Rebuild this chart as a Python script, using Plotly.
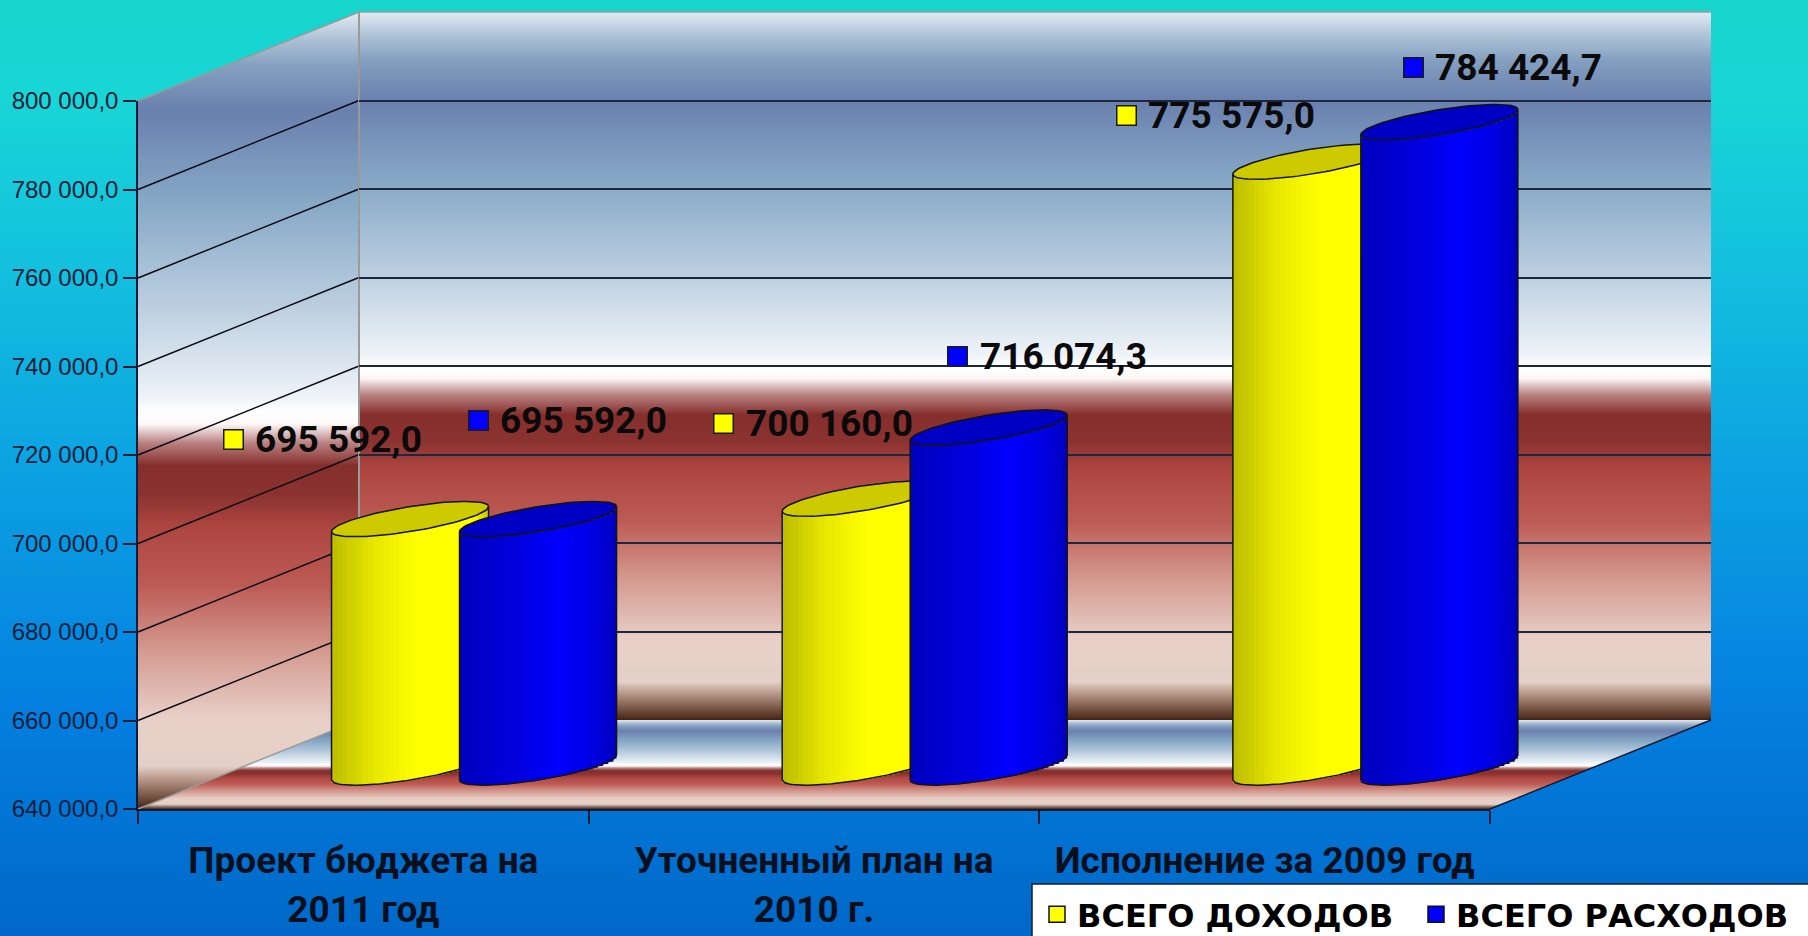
import numpy as np
import plotly.graph_objects as go

# ---------- data ----------
categories = ["Проект бюджета на<br>2011 год", "Уточненный план на<br>2010 г.", "Исполнение за 2009 год"]
series_names = ["ВСЕГО ДОХОДОВ", "ВСЕГО РАСХОДОВ"]
income = [695592.0, 700160.0, 775575.0]
expense = [695592.0, 716074.3, 784424.7]
income_labels = ["695 592,0", "700 160,0", "775 575,0"]
expense_labels = ["695 592,0", "716 074,3", "784 424,7"]
y_ticks = [640000, 660000, 680000, 700000, 720000, 740000, 760000, 780000, 800000]
y_tick_labels = ["640 000,0", "660 000,0", "680 000,0", "700 000,0", "720 000,0",
                 "740 000,0", "760 000,0", "780 000,0", "800 000,0"]

# ---------- geometry (pixels of the 1808x936 canvas) ----------
W, H = 1808, 936
FX0, FX1, FY0, FY1 = 138, 1490, 809, 101      # front axis box
BX0, BX1, BY0, BY1 = 359, 1711, 720, 12       # back wall
CX0, CY0 = 248.7, 767.5                       # cylinders: value 640000 / x=0
CH = 715                                      # cylinders: px for full range
EXTRA = 30                                    # room under cylinder base
A_PX, SHEAR, B_PX, SEP_PX = 78.5, 12.5, 12.5, 64
CAT_PX = (FX1 - FX0) / 3
YMIN, YMAX = y_ticks[0], y_ticks[-1]
VAL_PER_PX = (YMAX - YMIN) / CH


def dom_x(a, b):
    return [a / W, b / W]


def dom_y(bottom, top):
    return [1 - bottom / H, 1 - top / H]


# ---------- colours ----------
bg_stops = [(0, "#16d5cb"), (0.1, "#18d6d6"), (0.27, "#14c2de"), (0.5, "#0ca2e2"),
            (0.75, "#0480e0"), (1, "#0068c8")]
wall_stops = [(0, "#e3ebf4"), (.032, "#b0c4d8"), (.068, "#84a0c0"), (.124, "#6a80ae"),
              (.237, "#86a8c6"), (.371, "#bccfe0"), (.484, "#eef3f8"), (.501, "#ffffff"),
              (.517, "#fdf8f8"), (.541, "#b88080"), (.569, "#852f2c"), (.605, "#8a322f"),
              (.647, "#ae4640"), (.718, "#bc5a54"), (.802, "#d49a90"), (.887, "#e8d0c8"),
              (.946, "#e4d0c8"), (.965, "#b09080"), (.983, "#7a5848"), (.997, "#4e2c1e"),
              (1, "#3a2010")]
yellow_stops = [(-1, (188, 188, 0)), (-0.45, (232, 232, 0)), (0.1, (255, 255, 0)),
                (0.8, (255, 255, 0)), (1, (200, 200, 0))]
blue_stops = [(-1, (0, 0, 190)), (-0.2, (0, 0, 225)), (0.25, (0, 0, 255)), (0.7, (0, 0, 225)),
              (1, (0, 0, 190))]
TOP_YELLOW, TOP_BLUE = "#cdcb00", "#0000c4"
OUTLINE = "#14140c"
AXIS = "#0c1c38"
GRID = "#1c2840"
EDGE = "#9a9a9a"
FONT_HEAVY = "Roboto"

fig = go.Figure()


def hm(x, y, z, stops, axes=("x", "y")):
    fig.add_trace(go.Heatmap(x=x, y=y, z=z, colorscale=[[t, c] for t, c in stops], zmin=0, zmax=1,
                             showscale=False, hoverinfo="skip", xaxis=axes[0], yaxis=axes[1]))


# page background
ys = np.arange(0, H + 1)
hm([0, W], ys, ((ys[:-1] + .5) / H).reshape(-1, 1), bg_stops)

# back wall
ys = np.arange(BY1, BY0 + 1)
hm([BX0, BX1], ys, ((ys[:-1] + .5 - BY1) / (BY0 - BY1)).reshape(-1, 1), wall_stops)

# side wall: a sheared panel, its gradient runs over its whole height
DX, DY = BX0 - FX0, FY0 - BY0
xs = np.arange(FX0, BX0 + 1)
ys = np.arange(BY1, FY0 + 1)
cx, cy = np.meshgrid(xs[:-1] + .5, ys[:-1] + .5)
z = (cy - BY1) / (FY0 - BY1)
frac = (cx - FX0) / DX
z[(cy > FY0 - frac * DY) | (cy < FY1 - frac * DY)] = np.nan
hm(xs, ys, z, wall_stops)

# floor: same gradient compressed to the floor's height
xs = np.arange(FX0, BX1 + 1)
ys = np.arange(BY0, FY0 + 1)
cx, cy = np.meshgrid(xs[:-1] + .5, ys[:-1] + .5)
z = (cy - BY0) / (FY0 - BY0)
frac = (FY0 - cy) / DY
z[(cx < FX0 + frac * DX) | (cx > FX1 + frac * DX)] = np.nan
hm(xs, ys, z, wall_stops)

# side-wall grid lines
for v in y_ticks[1:-1]:
    y_front = FY0 - (v - YMIN) / (YMAX - YMIN) * (FY0 - FY1)
    fig.add_trace(go.Scatter(x=[FX0, BX0], y=[y_front, y_front - DY], mode="lines",
                             line=dict(color="#0a0a14", width=1.5), hoverinfo="skip", showlegend=False))
# box edges
for px, py, c, w_ in [([FX0, BX0, BX1], [FY1, BY1, BY1], EDGE, 1.5),
                      ([BX0, BX0], [BY1, BY0], EDGE, 2),
                      ([FX0, BX0], [FY0, BY0], EDGE, 1.5),
                      ([FX1, BX1], [FY0, BY0], "#101830", 1.5)]:
    fig.add_trace(go.Scatter(x=px, y=py, mode="lines", line=dict(color=c, width=w_),
                             hoverinfo="skip", showlegend=False))

# axis holders
fig.add_trace(go.Scatter(x=[None], y=[None], xaxis="x3", yaxis="y3", showlegend=False, hoverinfo="skip"))
fig.add_trace(go.Scatter(x=[None], y=[None], xaxis="x2", yaxis="y2", showlegend=False, hoverinfo="skip"))


def cylinder(center, value, stops, top_col, xa, ya, n=30):
    ax = A_PX / CAT_PX
    edges = np.linspace(-1, 1, n + 1)
    u = (edges[:-1] + edges[1:]) / 2
    rise = (SHEAR * u - B_PX * np.sqrt(1 - u ** 2)) * VAL_PER_PX
    t = [s[0] for s in stops]
    cols = [f"rgb({r:.0f},{g:.0f},{b:.0f})" for r, g, b in zip(
        *[np.interp(u, t, [s[1][i] for s in stops]) for i in range(3)])]
    step = (edges[1] - edges[0]) * ax
    # strips overlap the next one a little so no seams show; the last one keeps the cylinder's edge
    shift = np.full(n, step * .2)
    widths = np.full(n, step * 1.4)
    shift[-1], widths[-1] = 0, step
    fig.add_trace(go.Bar(x=center + u * ax + shift, y=np.full(n, value - YMIN), base=YMIN + rise,
                         width=widths,
                         marker=dict(color=cols, line=dict(width=0)), hoverinfo="skip",
                         showlegend=False, xaxis=xa, yaxis=ya))
    th = np.linspace(0, 2 * np.pi, 91)
    ex = center + np.cos(th) * ax
    ey = (SHEAR * np.cos(th) + B_PX * np.sin(th)) * VAL_PER_PX
    fig.add_trace(go.Scatter(x=ex, y=value + ey, mode="lines", fill="toself", fillcolor=top_col,
                             line=dict(color=OUTLINE, width=1.5), hoverinfo="skip", showlegend=False,
                             xaxis=xa, yaxis=ya))
    lu = np.linspace(-1, 1, 61)
    lx = center + lu * ax
    ly = YMIN + (SHEAR * lu - B_PX * np.sqrt(1 - lu ** 2)) * VAL_PER_PX
    fig.add_trace(go.Scatter(x=np.r_[center - ax, lx, center + ax],
                             y=np.r_[value + (-SHEAR) * VAL_PER_PX, ly, value + SHEAR * VAL_PER_PX],
                             mode="lines", line=dict(color=OUTLINE, width=1.5), hoverinfo="skip",
                             showlegend=False, xaxis=xa, yaxis=ya))


sep = SEP_PX / CAT_PX
for i, v in enumerate(income):
    cylinder(i + .5 - sep, v, yellow_stops, TOP_YELLOW, "x4", "y4")
for i, v in enumerate(expense):
    cylinder(i + .5 + sep, v, blue_stops, TOP_BLUE, "x5", "y5")

# legend entries
for name, col in zip(series_names, ["#ffff00", "#0000ff"]):
    fig.add_trace(go.Scatter(x=[None], y=[None], mode="markers", name=name, xaxis="x5", yaxis="y5",
                             marker=dict(symbol="square", size=16, color=col, line=dict(color="#101010", width=1.5))))

# data labels: square + text, placed relative to each cylinder's top
income_offsets = [(-177, 80), (-137, 75), (-185, 46)]
expense_offsets = [(-60, 99), (-31, 71), (-26, 55)]
annotations = []
for vals, labels, offs, col, xa, ya, sgn in [(income, income_labels, income_offsets, "#ffff00", "x4", "y4", -1),
                                             (expense, expense_labels, expense_offsets, "#0000ff", "x5", "y5", 1)]:
    for i, (v, lab, (ox, oy)) in enumerate(zip(vals, labels, offs)):
        cx_ = i + .5 + sgn * sep
        annotations.append(dict(x=cx_, y=v, xref=xa, yref=ya, xshift=ox, yshift=oy, text=" ", showarrow=False,
                                width=18, height=18, bgcolor=col, bordercolor="#1a1a1a", borderwidth=1.5,
                                borderpad=0, xanchor="center", yanchor="middle"))
        annotations.append(dict(x=cx_, y=v, xref=xa, yref=ya, xshift=ox + 20, yshift=oy, text=lab, showarrow=False,
                                xanchor="left", yanchor="middle",
                                font=dict(family=FONT_HEAVY, size=37, color="#0a0a0a", weight=700)))

hidden = dict(visible=False, fixedrange=True)
fig.update_layout(
    width=W, height=H, margin=dict(l=0, r=0, t=0, b=0, autoexpand=False), autosize=False,
    paper_bgcolor="#0a90e0", plot_bgcolor="rgba(0,0,0,0)", barmode="overlay", hovermode=False,
    xaxis=dict(range=[0, W], domain=[0, 1], **hidden),
    yaxis=dict(range=[H, 0], domain=[0, 1], **hidden),
    xaxis2=dict(range=[0, 3], domain=dom_x(FX0, FX1), anchor="y2", fixedrange=True,
                tickmode="array", tickvals=[.5, 1.5, 2.5], ticktext=categories, ticks="",
                tickangle=0, ticklabelstandoff=18, showgrid=False, zeroline=False, showline=True,
                linecolor=AXIS, linewidth=2,
                tickfont=dict(family=FONT_HEAVY, size=37, color="#08101e", weight=700),
                minor=dict(tickmode="array", tickvals=[0, 1, 2, 3], ticks="outside", ticklen=13,
                           tickcolor=AXIS, tickwidth=1.5, showgrid=False)),
    yaxis2=dict(range=[YMIN, YMAX], domain=dom_y(FY0, FY1), anchor="x2", fixedrange=True,
                tickmode="array", tickvals=y_ticks, ticktext=y_tick_labels, ticks="outside", ticklen=13,
                tickcolor=AXIS, tickwidth=1.5, showgrid=False, zeroline=False, showline=True,
                linecolor=AXIS, linewidth=1.5, ticklabelstandoff=0,
                tickfont=dict(family="Liberation Sans", size=24, color="#06203a")),
    xaxis3=dict(range=[0, 1], domain=dom_x(BX0, BX1), anchor="y3", **hidden),
    yaxis3=dict(range=[YMIN, YMAX], domain=dom_y(BY0, BY1), anchor="x3", fixedrange=True,
                tickmode="array", tickvals=y_ticks[1:-1], showticklabels=False, ticks="", showline=False,
                showgrid=True, gridcolor=GRID, gridwidth=1.5, zeroline=False),
    xaxis4=dict(range=[0, 3], domain=dom_x(CX0, CX0 + 3 * CAT_PX), anchor="y4", **hidden),
    yaxis4=dict(range=[YMIN - EXTRA * VAL_PER_PX, YMAX], domain=dom_y(CY0 + EXTRA, CY0 - CH), anchor="x4", **hidden),
    xaxis5=dict(range=[0, 3], domain=dom_x(CX0, CX0 + 3 * CAT_PX), anchor="y5", **hidden),
    yaxis5=dict(range=[YMIN - EXTRA * VAL_PER_PX, YMAX], domain=dom_y(CY0 + EXTRA, CY0 - CH), anchor="x5", **hidden),
    annotations=annotations,
    # white legend panel runs off the right and bottom edges of the page
    shapes=[dict(type="rect", xref="paper", yref="paper", x0=1032 / W, x1=1 + 4 / W, y0=-4 / H, y1=1 - 884 / H,
                 fillcolor="#ffffff", line=dict(color="#0c1c38", width=1.5), layer="above")],
    showlegend=True,
    legend=dict(orientation="h", x=1037 / W, xanchor="left", y=1 - 887 / H, yanchor="top",
                bgcolor="rgba(0,0,0,0)", borderwidth=0, traceorder="normal", itemsizing="trace",
                itemwidth=30, entrywidth=334, entrywidthmode="pixels",
                font=dict(family="DejaVu Sans", size=32, color="#000000", weight=700)),
)

fig.write_html("out.html", config={"displayModeBar": False},
               post_script="document.body.style.margin='0';document.body.style.overflow='hidden';")
